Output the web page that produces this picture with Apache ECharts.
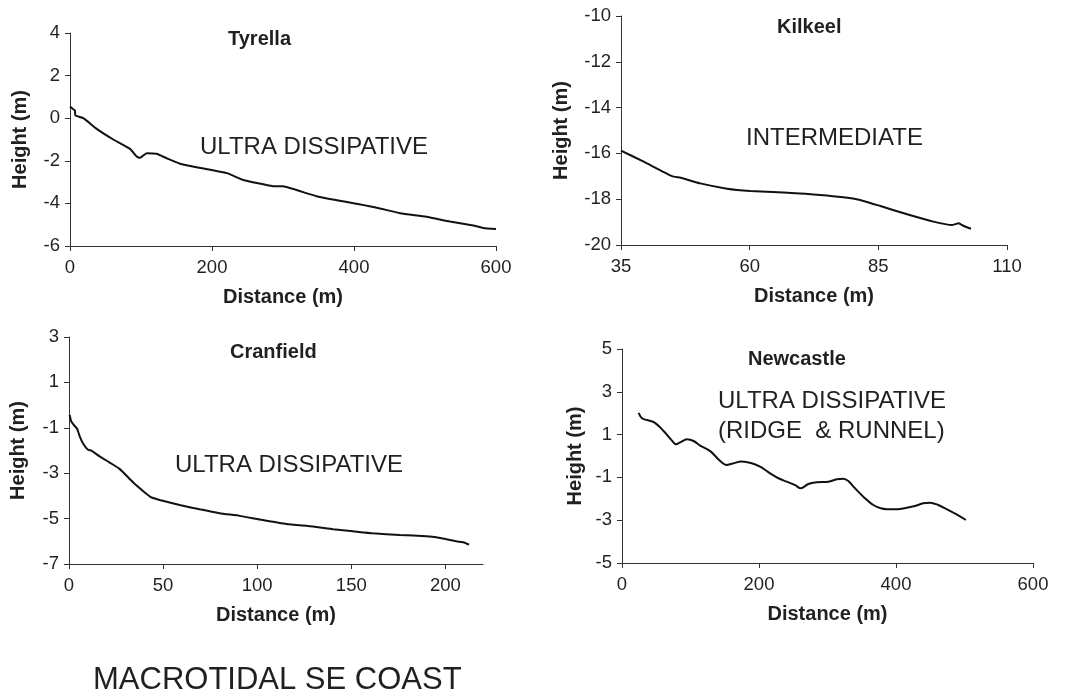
<!DOCTYPE html>
<html>
<head>
<meta charset="utf-8">
<script src="https://cdn.jsdelivr.net/npm/echarts@6/dist/echarts.min.js"></script>
<style>
html,body{margin:0;padding:0;background:#fff;}
#c{width:1070px;height:695px;}
</style>
</head>
<body>
<div id="c"></div>
<script>
// ---- Data (distance m, height m) ----
const tyrellaX = [0, 3.8, 7, 7.5, 18.8, 37.6, 61, 84.5, 94, 98.6, 108, 122, 136, 155, 183, 221, 244, 286, 300, 347, 399, 432, 465, 502, 535, 568, 582, 600];
const tyrellaY = [0.55, 0.44, 0.36, 0.13, 0.0, -0.5, -1.0, -1.44, -1.8, -1.86, -1.64, -1.67, -1.88, -2.14, -2.33, -2.58, -2.9, -3.19, -3.2, -3.66, -3.99, -4.2, -4.46, -4.63, -4.85, -5.04, -5.15, -5.2];

const kilkeelX = [35, 39.4, 44.9, 46.6, 50.4, 55.6, 60.1, 66.6, 73.7, 80.8, 85.4, 90.6, 95.7, 99.3, 100.6, 101.6, 103];
const kilkeelY = [-15.88, -16.36, -16.99, -17.06, -17.31, -17.54, -17.64, -17.71, -17.82, -18.0, -18.3, -18.66, -18.98, -19.13, -19.05, -19.17, -19.29];

const cranfieldX = [0.35, 1.2, 2.5, 4.3, 5.7, 7.4, 10.1, 11.9, 16.3, 21.6, 26.9, 34, 39.3, 43.8, 48.2, 58.8, 69.4, 80, 90.7, 101.3, 115.5, 129.7, 140.3, 150.9, 161.5, 175.7, 189.9, 195.2, 200.5, 205.8, 210.3, 212.6];
const cranfieldY = [-0.43, -0.72, -0.87, -1.04, -1.38, -1.68, -1.97, -2.01, -2.26, -2.53, -2.81, -3.4, -3.78, -4.07, -4.18, -4.4, -4.59, -4.76, -4.88, -5.04, -5.24, -5.35, -5.47, -5.56, -5.65, -5.72, -5.78, -5.82, -5.91, -6.0, -6.06, -6.15];

const newcastleX = [24.3, 29.2, 36.4, 47.1, 60.7, 72.9, 78.7, 85, 94.8, 104.5, 114.2, 128.8, 141, 153, 160.3, 174.9, 189.5, 201.6, 216.2, 228.4, 240.5, 252.7, 261, 272, 284.2, 301.3, 313.4, 323.1, 330.4, 340.1, 352.3, 366.9, 379, 396, 410.6, 427.6, 439.7, 449.5, 461.6, 473.8, 488.4, 502];
const newcastleY = [2.02, 1.76, 1.68, 1.57, 1.17, 0.72, 0.55, 0.64, 0.78, 0.70, 0.48, 0.23, -0.16, -0.42, -0.36, -0.26, -0.34, -0.5, -0.81, -1.04, -1.2, -1.36, -1.51, -1.31, -1.23, -1.2, -1.09, -1.06, -1.17, -1.51, -1.9, -2.29, -2.45, -2.49, -2.45, -2.34, -2.21, -2.18, -2.29, -2.48, -2.73, -2.99];

const panelTitles = ['Tyrella', 'Kilkeel', 'Cranfield', 'Newcastle'];
const beachTypes = ['ULTRA DISSIPATIVE', 'INTERMEDIATE', 'ULTRA DISSIPATIVE', 'ULTRA DISSIPATIVE\n(RIDGE  & RUNNEL)'];
const footerText = 'MACROTIDAL SE COAST';

const xRanges = [[0, 600, 200], [35, 110, 25], [0, 220, 50], [0, 600, 200]];
const yRanges = [[-6, 4, 2], [-20, -10, 2], [-7, 3, 2], [-5, 5, 2]];
const cranfieldXTicks = [0, 50, 100, 150, 200];

// ---- Layout ----
const FONT = '"Liberation Sans", Arial, Helvetica, sans-serif';
const TXT = '#231f20';
const grids = [
  {left: 70, top: 33, width: 426, height: 213},
  {left: 621, top: 16, width: 386, height: 229},
  {left: 69, top: 337, width: 414, height: 227},
  {left: 622, top: 349, width: 411, height: 214}
];
const yNameGaps = [40, 50, 41, 37];
const zip = (xs, ys) => xs.map((x, i) => [x, ys[i]]);
const seriesData = [zip(tyrellaX, tyrellaY), zip(kilkeelX, kilkeelY), zip(cranfieldX, cranfieldY), zip(newcastleX, newcastleY)];

const axisLineStyle = {show: true, onZero: false, lineStyle: {color: '#333', width: 1}};
const tickStyle = {show: true, inside: false, length: 5, lineStyle: {color: '#333', width: 1}};
const labelStyle = {color: TXT, fontFamily: FONT, fontSize: 18.5};
const nameStyle = {color: TXT, fontFamily: FONT, fontSize: 20, fontWeight: 'bold'};

const xAxes = xRanges.map((r, i) => {
  const ax = {
    type: 'value', gridIndex: i, min: r[0], max: r[1], interval: r[2],
    name: 'Distance (m)', nameLocation: 'middle', nameGap: 41, nameTextStyle: nameStyle,
    axisLine: axisLineStyle, axisTick: Object.assign({}, tickStyle),
    axisLabel: Object.assign({margin: 12}, labelStyle), splitLine: {show: false}
  };
  if (i === 2) {
    ax.axisTick = Object.assign({customValues: cranfieldXTicks}, tickStyle);
    ax.axisLabel = Object.assign({margin: 12, customValues: cranfieldXTicks}, labelStyle);
  }
  return ax;
});
const yAxes = yRanges.map((r, i) => ({
  type: 'value', gridIndex: i, min: r[0], max: r[1], interval: r[2],
  name: 'Height (m)', nameLocation: 'middle', nameGap: yNameGaps[i], nameTextStyle: nameStyle,
  axisLine: axisLineStyle, axisTick: tickStyle,
  axisLabel: Object.assign({margin: 10}, labelStyle), splitLine: {show: false}
}));

const titlePos = [[228, 29], [777, 17], [230, 342], [748, 349]];
const titles = panelTitles.map((t, i) => ({
  text: t, left: titlePos[i][0], top: titlePos[i][1], padding: 0,
  textStyle: {color: TXT, fontFamily: FONT, fontSize: 20, fontWeight: 'bold'}
}));

const annoPos = [[200, 147], [746, 138.5], [175, 465], [718, 416]];
const graphics = beachTypes.map((t, i) => ({
  type: 'text', x: annoPos[i][0], y: annoPos[i][1], silent: true,
  style: {text: t, fill: TXT, font: '24px ' + FONT, textAlign: 'left', textVerticalAlign: 'middle', lineHeight: 30}
}));
graphics.push({
  type: 'text', x: 93, y: 680, silent: true,
  style: {text: footerText, fill: TXT, font: '31px ' + FONT, textAlign: 'left', textVerticalAlign: 'middle'}
});

const series = seriesData.map((d, i) => ({
  type: 'line', xAxisIndex: i, yAxisIndex: i, data: d, showSymbol: false,
  smooth: i === 3 ? 0.35 : 0.15,
  lineStyle: {color: '#111', width: 2}, animation: false
}));

const chart = echarts.init(document.getElementById('c'), null, {renderer: 'canvas'});
chart.setOption({
  backgroundColor: '#fff',
  animation: false,
  title: titles,
  grid: grids,
  xAxis: xAxes,
  yAxis: yAxes,
  series: series,
  graphic: graphics
});
</script>
</body>
</html>
